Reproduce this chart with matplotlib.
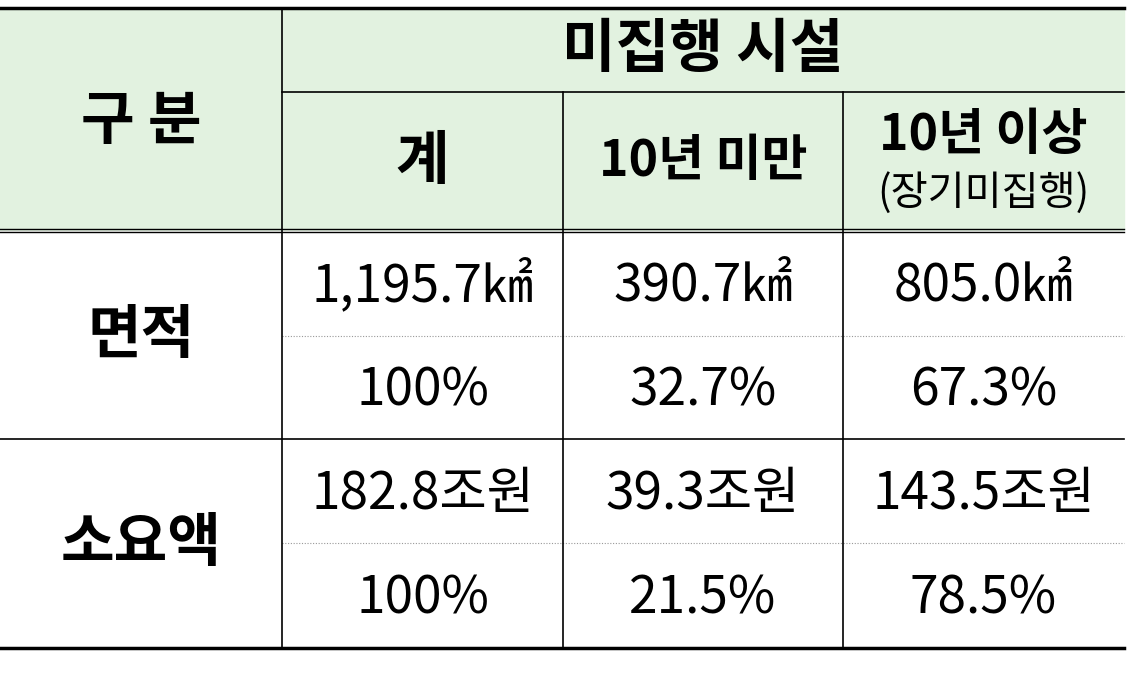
import matplotlib
matplotlib.use("Agg")
import matplotlib.pyplot as plt
from matplotlib.patches import Rectangle

plt.rcParams['font.family'] = ['Noto Sans CJK KR', 'DejaVu Sans']

row_labels = ["면적", "소요액"]
col_labels = ["계", "10년 미만", "10년 이상"]
values = [
    ["1,195.7㎢", "390.7㎢", "805.0㎢"],
    ["100%", "32.7%", "67.3%"],
    ["182.8조원", "39.3조원", "143.5조원"],
    ["100%", "21.5%", "78.5%"],
]

W, H = 1128, 682
fig = plt.figure(figsize=(W / 100, H / 100), dpi=100)
ax = fig.add_axes([0, 0, 1, 1])
ax.set_xlim(0, W)
ax.set_ylim(H, 0)
ax.axis("off")

xs = [0, 282, 563, 843, 1124]
y_top, y_sub, y_hdr = 8, 92, 230
row_y = [232, 336, 439, 543, 648]
green = "#E2F2E0"

ax.add_patch(Rectangle((0, y_top), xs[-1], y_hdr - y_top, color=green, zorder=0))

# lines
ax.plot([0, xs[-1]], [y_top, y_top], color="black", lw=2.5)
ax.plot([0, xs[-1]], [row_y[-1], row_y[-1]], color="black", lw=2.5)
ax.plot([0, xs[-1]], [y_hdr - 1.5, y_hdr - 1.5], color="black", lw=1)
ax.plot([0, xs[-1]], [y_hdr + 1.5, y_hdr + 1.5], color="black", lw=1)
ax.plot([xs[1], xs[-1]], [y_sub, y_sub], color="black", lw=1.2)
ax.plot([0, xs[-1]], [row_y[2], row_y[2]], color="black", lw=1.2)
for y in (row_y[1], row_y[3]):
    ax.plot([xs[1], xs[-1]], [y, y], color="#999999", lw=0.8, ls=(0, (1, 1.5)))
ax.plot([xs[1], xs[1]], [y_top, row_y[-1]], color="black", lw=1.2)
for x in xs[2:4]:
    ax.plot([x, x], [y_sub, row_y[-1]], color="black", lw=1.2)

fs = 42
ax.text(141, 122, "구 분", ha="center", va="center", fontsize=fs, fontweight="bold")
ax.text((xs[1] + xs[-1]) / 2, 50, "미집행 시설", ha="center", va="center", fontsize=fs, fontweight="bold")
ax.text((xs[1] + xs[2]) / 2, 162, col_labels[0], ha="center", va="center", fontsize=fs, fontweight="bold")
ax.text((xs[2] + xs[3]) / 2, 162, col_labels[1], ha="center", va="center", fontsize=36, fontweight="bold")
ax.text((xs[3] + xs[4]) / 2, 136, col_labels[2], ha="center", va="center", fontsize=36, fontweight="bold")
ax.text((xs[3] + xs[4]) / 2, 193, "(장기미집행)", ha="center", va="center", fontsize=29)

ax.text(141, (row_y[0] + row_y[2]) / 2, row_labels[0], ha="center", va="center", fontsize=fs, fontweight="bold")
ax.text(141, (row_y[2] + row_y[4]) / 2, row_labels[1], ha="center", va="center", fontsize=fs, fontweight="bold")

for r, row in enumerate(values):
    yc = (row_y[r] + row_y[r + 1]) / 2 + 3
    for c, v in enumerate(row):
        ax.text((xs[c + 1] + xs[c + 2]) / 2, yc, v, ha="center", va="center", fontsize=37)

fig.savefig("out.png", dpi=100, facecolor="white")
